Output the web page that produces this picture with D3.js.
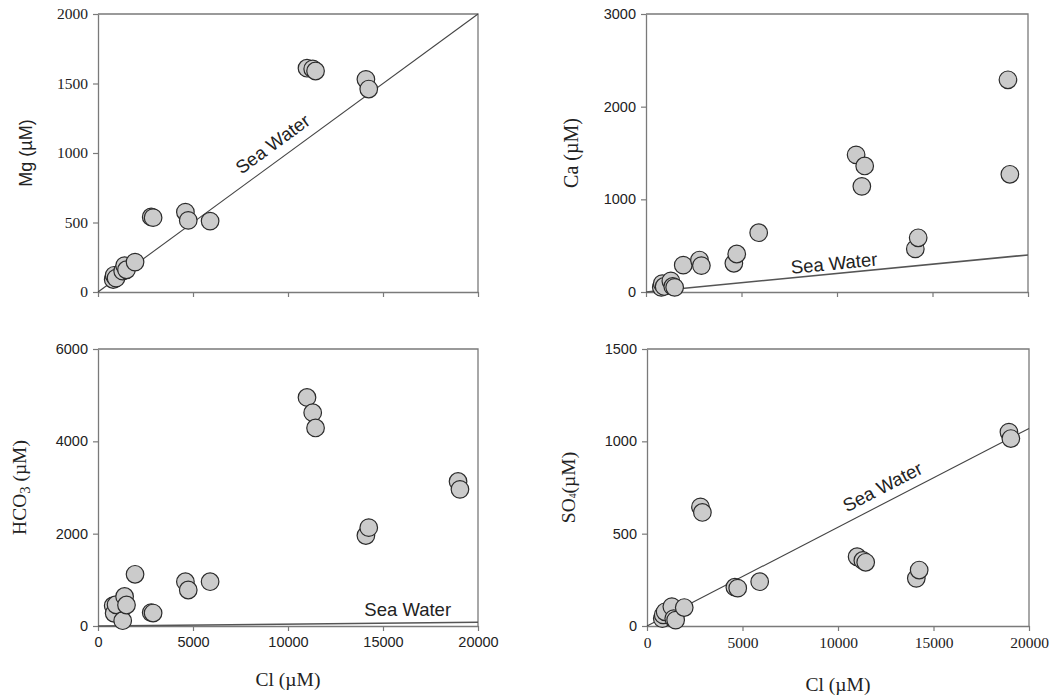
<!DOCTYPE html>
<html>
<head>
<meta charset="utf-8">
<script src="https://cdn.jsdelivr.net/npm/d3@7/dist/d3.min.js"></script>
<style>
  html, body { margin: 0; padding: 0; background: #fff; }
  svg { display: block; }
</style>
</head>
<body>
<svg id="chart" width="1058" height="700"></svg>
<script>
// Chloride concentration of each sample (µM)
const chloride  = [800, 850, 950, 1300, 1400, 1500, 1950, 2800, 2900, 4600, 4750, 5900, 11000, 11300, 11450, 14100, 14250, 18950, 19050];
// Major ion concentrations of the same samples (µM)
const magnesium = [90, 120, 100, 150, 190, 160, 215, 540, 535, 575, 515, 510, 1610, 1605, 1590, 1530, 1460, null, null];
const calcium   = [50, 90, 60, 120, 60, 50, 290, 345, 285, 310, 410, 640, 1480, 1140, 1360, 465, 585, 2290, 1270];
const bicarbonate = [440, 275, 460, 115, 640, 455, 1120, 290, 280, 960, 780, 960, 4950, 4620, 4290, 1960, 2130, 3130, 2960];
const sulfate   = [40, 60, 77, 105, 40, 32, 100, 645, 615, 210, 205, 240, 375, 355, 345, 258, 303, 1050, 1015];

// Sea-water ion / Cl ratios
const seaRatio = { mg: 0.1, ca: 0.02, hco3: 0.004, so4: 0.0535 };

// Axis ranges and ticks
const clDomain = [0, 20000];
const clTicks = [0, 5000, 10000, 15000, 20000];
const mgTicks = [0, 500, 1000, 1500, 2000];
const caTicks = [0, 1000, 2000, 3000];
const hco3Ticks = [0, 2000, 4000, 6000];
const so4Ticks = [0, 500, 1000, 1500];

const SERIF = "'Liberation Serif', 'Times New Roman', serif";
const SANS = "'Liberation Sans', Arial, sans-serif";
const AXIS_COLOR = "#7a7a7a";
const TEXT_COLOR = "#222";

const svg = d3.select("#chart");

const panels = [
  { key: "mg", values: magnesium, yTicks: mgTicks, yMax: 2000,
    box: { l: 98, r: 478, t: 14, b: 292 },
    yTickFont: SERIF, yTickSize: 15.5, xTickLabels: false,
    yLabel: [{ t: "Mg (µM)" }], yLabelFont: SANS, yLabelSize: 18, yLabelX: 27,
    sea: { cl: 9700, off: 10, fontSize: 18.5, rotate: true } },
  { key: "ca", values: calcium, yTicks: caTicks, yMax: 3000,
    box: { l: 646, r: 1028, t: 14, b: 292 },
    yTickFont: SANS, yTickSize: 14.5, xTickLabels: false,
    yLabel: [{ t: "Ca (µM)" }], yLabelFont: SERIF, yLabelSize: 20, yLabelX: 573,
    sea: { cl: 9900, off: 4, fontSize: 18.5, rotate: true } },
  { key: "hco3", values: bicarbonate, yTicks: hco3Ticks, yMax: 6000,
    box: { l: 98, r: 478, t: 349, b: 626 },
    yTickFont: SANS, yTickSize: 14.5, xTickLabels: true, xTickFont: SANS, xTickSize: 14.5,
    yLabel: [{ t: "HCO" }, { t: "3", sub: true }, { t: " (µM)" }], yLabelFont: SERIF, yLabelSize: 19.5, yLabelX: 22,
    sea: { cl: 16300, off: 10, fontSize: 18.5, rotate: false },
    xLabelY: 686 },
  { key: "so4", values: sulfate, yTicks: so4Ticks, yMax: 1500,
    box: { l: 647, r: 1029, t: 349, b: 626 },
    yTickFont: SANS, yTickSize: 14.5, xTickLabels: true, xTickFont: SERIF, xTickSize: 15.5,
    yLabel: [{ t: "SO" }, { t: "4", sub: true, small: true }, { t: "(µM)" }], yLabelFont: SERIF, yLabelSize: 19.5, yLabelX: 571,
    sea: { cl: 12700, off: 9, fontSize: 18.5, rotate: true },
    xLabelY: 691 }
];

panels.forEach(p => {
  const { l, r, t, b } = p.box;
  const x = d3.scaleLinear().domain(clDomain).range([l, r]);
  const y = d3.scaleLinear().domain([0, p.yMax]).range([b, t]);
  const g = svg.append("g");

  // frame (top and right edges)
  g.append("path")
    .attr("d", `M${l},${t}H${r}V${b}`)
    .attr("fill", "none").attr("stroke", AXIS_COLOR).attr("stroke-width", 1.3);

  // left axis
  const yAxis = g.append("g")
    .attr("transform", `translate(${l},0)`)
    .call(d3.axisLeft(y).tickValues(p.yTicks).tickFormat(d3.format("d")).tickSize(5).tickPadding(5).tickSizeOuter(0));
  yAxis.selectAll("text").attr("font-family", p.yTickFont).attr("font-size", p.yTickSize).attr("fill", TEXT_COLOR);

  // bottom axis
  const xAxis = g.append("g")
    .attr("transform", `translate(0,${b})`)
    .call(d3.axisBottom(x).tickValues(clTicks).tickFormat(p.xTickLabels ? d3.format("d") : "").tickSize(5).tickPadding(6).tickSizeOuter(0));
  xAxis.selectAll("text").attr("font-family", p.xTickFont || SANS).attr("font-size", p.xTickSize || 14).attr("fill", TEXT_COLOR);

  [yAxis, xAxis].forEach(a => {
    a.select(".domain").attr("stroke", AXIS_COLOR).attr("stroke-width", 1.3);
    a.selectAll(".tick line").attr("stroke", AXIS_COLOR).attr("stroke-width", 1.2);
  });

  // sea-water mixing line
  const ratio = seaRatio[p.key];
  const seaLine = d3.line().x(d => x(d)).y(d => y(d * ratio));
  g.append("path")
    .datum(clDomain)
    .attr("d", seaLine)
    .attr("fill", "none")
    .attr("stroke", p.key === "ca" || p.key === "hco3" ? "#555" : "#444")
    .attr("stroke-width", p.key === "ca" || p.key === "hco3" ? 1.6 : 1.1);

  // sea-water label, laid along the line
  const angle = Math.atan2(y(clDomain[1] * ratio) - y(0), x(clDomain[1]) - x(0)) * 180 / Math.PI;
  const px = x(p.sea.cl), py = y(p.sea.cl * ratio);
  g.append("text")
    .attr("transform", p.sea.rotate
      ? `translate(${px},${py}) rotate(${angle}) translate(0,${-p.sea.off})`
      : `translate(${px},${y(0) - p.sea.off})`)
    .attr("text-anchor", "middle")
    .attr("font-family", SANS)
    .attr("font-size", p.sea.fontSize)
    .attr("fill", TEXT_COLOR)
    .text("Sea Water");

  // samples
  const pts = chloride.map((c, i) => ({ cl: c, v: p.values[i] })).filter(d => d.v != null);
  g.append("g").selectAll("circle")
    .data(pts)
    .join("circle")
    .attr("cx", d => x(d.cl))
    .attr("cy", d => y(d.v))
    .attr("r", 8.8)
    .attr("fill", "#cbcbcb")
    .attr("stroke", "#2b2b2b")
    .attr("stroke-width", 1.2);

  // y-axis title
  const yl = g.append("text")
    .attr("transform", `translate(${p.yLabelX},${(t + b) / 2}) rotate(-90)`)
    .attr("text-anchor", "middle")
    .attr("dominant-baseline", "middle")
    .attr("font-family", p.yLabelFont)
    .attr("font-size", p.yLabelSize)
    .attr("fill", TEXT_COLOR);
  p.yLabel.forEach((part, i) => {
    const ts = yl.append("tspan").text(part.t);
    if (part.sub) {
      ts.attr("font-size", p.yLabelSize * (part.small ? 0.5 : 0.75)).attr("dy", part.small ? 3 : 5);
    } else if (i > 0 && p.yLabel[i - 1].sub) {
      ts.attr("dy", p.yLabel[i - 1].small ? -3 : -5);
    }
  });

  // x-axis title
  if (p.xLabelY) {
    g.append("text")
      .attr("x", (l + r) / 2)
      .attr("y", p.xLabelY)
      .attr("text-anchor", "middle")
      .attr("font-family", SERIF)
      .attr("font-size", 19.5)
      .attr("fill", TEXT_COLOR)
      .text("Cl (µM)");
  }
});
</script>
</body>
</html>
